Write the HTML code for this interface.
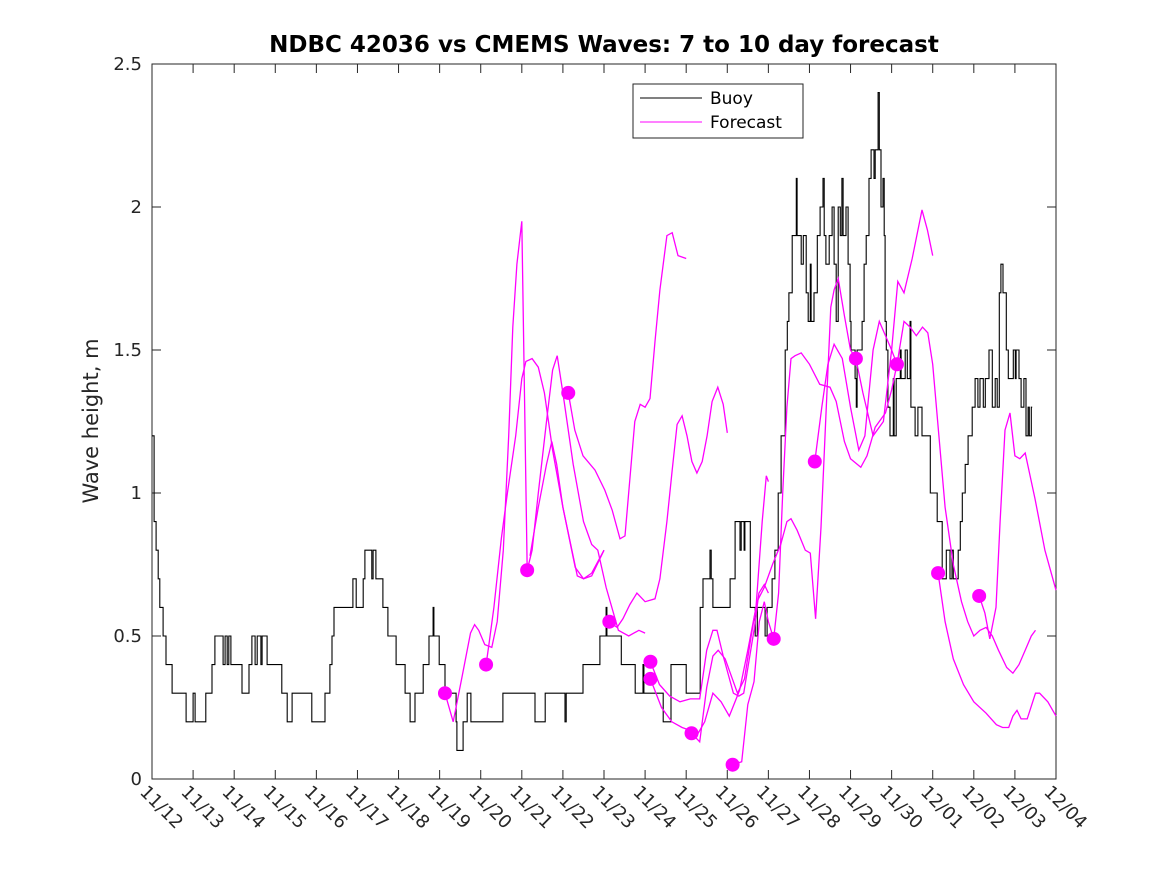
<!DOCTYPE html>
<html><head><meta charset="utf-8"><style>
html,body{margin:0;padding:0;background:#fff;}
svg{display:block;font-family:"DejaVu Sans","Liberation Sans",sans-serif;}
</style></head><body>
<svg id="chart" width="1167" height="875" viewBox="0 0 1167 875">
<rect x="0" y="0" width="1167" height="875" fill="#fff"/>
<text x="604" y="52" text-anchor="middle" font-size="23" font-weight="bold" fill="#000">NDBC 42036 vs CMEMS Waves: 7 to 10 day forecast</text>
<text transform="translate(98,421) rotate(-90)" text-anchor="middle" font-size="21" fill="#262626">Wave height, m</text>
<g id="axes"></g>
<g id="series"></g>
<g id="legend">
<rect x="633" y="84" width="170" height="54" fill="#fff" stroke="#262626" stroke-width="1"/>
<line x1="640" y1="98" x2="702" y2="98" stroke="#000" stroke-width="1"/>
<text x="710" y="104" font-size="17" fill="#000">Buoy</text>
<line x1="640" y1="122" x2="702" y2="122" stroke="#ff00ff" stroke-width="1"/>
<text x="710" y="128" font-size="17" fill="#000">Forecast</text>
</g>
</svg>
<script>
const xTickLabels = ["11/12","11/13","11/14","11/15","11/16","11/17","11/18","11/19","11/20","11/21","11/22","11/23","11/24","11/25","11/26","11/27","11/28","11/29","11/30","12/01","12/02","12/03","12/04"];
const yTicks = [0,0.5,1,1.5,2,2.5];
const yTickLabels = ["0","0.5","1","1.5","2","2.5"];
const buoyDays = [0,0.05,0.10,0.15,0.19,0.27,0.34,0.49,0.83,1.0,1.05,1.31,1.46,1.53,1.73,1.78,1.83,1.87,1.92,2.19,2.36,2.43,2.51,2.56,2.65,2.68,2.80,3.16,3.29,3.41,3.89,4.21,4.33,4.38,4.43,4.89,4.97,5.14,5.18,5.35,5.38,5.45,5.62,5.74,5.94,6.16,6.28,6.40,6.60,6.74,6.84,6.86,6.99,7.13,7.40,7.42,7.57,7.67,7.76,8.54,9.32,9.57,10.05,10.08,10.49,10.90,11.05,11.07,11.42,11.76,11.95,11.97,12.44,12.63,13.00,13.34,13.41,13.58,13.61,13.65,14.07,14.19,14.31,14.34,14.41,14.43,14.56,14.68,14.73,14.92,14.97,15.09,15.16,15.24,15.31,15.41,15.46,15.50,15.58,15.68,15.70,15.80,15.85,15.92,15.97,16.02,16.04,16.11,16.19,16.26,16.33,16.36,16.40,16.48,16.55,16.60,16.65,16.70,16.75,16.79,16.82,16.89,16.94,16.99,17.01,17.11,17.14,17.16,17.28,17.33,17.38,17.45,17.50,17.57,17.60,17.67,17.70,17.74,17.79,17.82,17.84,17.87,17.91,17.96,18.04,18.06,18.11,18.21,18.23,18.33,18.38,18.45,18.47,18.57,18.64,18.74,18.94,19.11,19.23,19.33,19.42,19.47,19.50,19.62,19.67,19.72,19.79,19.86,19.96,20.03,20.10,20.15,20.23,20.28,20.37,20.45,20.52,20.57,20.62,20.66,20.71,20.79,20.84,20.96,21.01,21.03,21.10,21.15,21.22,21.27,21.32,21.35,21.40,21.42];
const buoyVals = [1.2,0.9,0.8,0.7,0.6,0.5,0.4,0.3,0.2,0.3,0.2,0.3,0.4,0.5,0.4,0.5,0.4,0.5,0.4,0.3,0.4,0.5,0.4,0.5,0.4,0.5,0.4,0.3,0.2,0.3,0.2,0.3,0.4,0.5,0.6,0.7,0.6,0.7,0.8,0.7,0.8,0.7,0.6,0.5,0.4,0.3,0.2,0.3,0.4,0.5,0.6,0.5,0.4,0.3,0.2,0.1,0.2,0.3,0.2,0.3,0.2,0.3,0.2,0.3,0.4,0.5,0.6,0.5,0.4,0.3,0.4,0.3,0.2,0.4,0.3,0.6,0.7,0.8,0.7,0.6,0.7,0.9,0.8,0.9,0.8,0.9,0.6,0.5,0.6,0.5,0.6,0.7,0.8,1.0,1.2,1.5,1.6,1.7,1.9,2.1,1.9,1.8,1.9,1.7,1.6,1.8,1.6,1.7,1.9,2.0,2.1,1.9,1.8,1.9,2.0,1.8,1.6,2.0,1.9,2.1,1.9,2.0,1.8,1.6,1.5,1.4,1.3,1.5,1.6,1.8,1.9,2.1,2.2,2.1,2.2,2.4,2.2,2.0,2.1,1.9,1.6,1.5,1.3,1.2,1.4,1.2,1.4,1.5,1.4,1.5,1.4,1.6,1.3,1.2,1.3,1.2,1.0,0.9,0.7,0.8,0.7,0.8,0.7,0.8,0.9,1.0,1.1,1.2,1.3,1.4,1.3,1.4,1.3,1.4,1.5,1.3,1.4,1.3,1.7,1.8,1.7,1.5,1.4,1.5,1.4,1.5,1.4,1.3,1.4,1.2,1.3,1.2,1.3,1.3];
const fcDays = [
 [7.13,7.33,7.55,7.75,7.85,7.95,8.1,8.27,8.4,8.55,8.68,8.78,8.88,9.0,9.13],
 [8.13,8.2,8.32,8.5,8.65,8.85,9.0,9.1,9.25,9.4,9.55,9.75,10.0,10.3,10.5,10.7,11.0],
 [9.13,9.25,9.4,9.6,9.75,9.86,10.0,10.25,10.5,10.7,10.85,11.05,11.35,11.6,11.85,12.0],
 [9.2,9.4,9.6,9.73,9.85,10.0,10.35,10.5,10.7,11.0],
 [10.13,10.29,10.49,10.78,11.02,11.2,11.39,11.51,11.75,11.88,12.0,12.12,12.24,12.36,12.53,12.66,12.8,13.0],
 [11.12,11.32,11.46,11.63,11.8,12.0,12.24,12.36,12.53,12.66,12.78,12.9,13.02,13.14,13.26,13.39,13.51,13.63,13.77,13.9,14.0],
 [12.13,12.35,12.6,12.85,13.1,13.33,13.5,13.65,13.75,13.9,14.15,14.28,14.4,14.65,14.77,14.9,15.0],
 [12.13,12.4,12.65,12.9,13.1,13.25,13.45,13.65,13.85,14.05,14.3,14.5,14.7,14.85,14.95,15.0],
 [13.13,13.33,13.5,13.65,13.78,13.95,14.25,14.42,14.57,14.72,14.9,15.1,15.3,15.45,15.55,15.7,15.9,16.02,16.15,16.28,16.4,16.52,16.6,16.7,16.85,17.0,17.13],
 [14.13,14.35,14.5,14.65,14.78,14.9,15.0,15.13],
 [15.13,15.25,15.35,15.45,15.55,15.65,15.8,16.0,16.25,16.5,16.65,16.85,17.0,17.25,17.4,17.6,17.85,18.0,18.13],
 [16.13,16.3,16.45,16.6,16.8,17.0,17.2,17.35,17.55,17.7,17.85,18.0,18.13],
 [17.13,17.3,17.55,17.8,18.0,18.15,18.3,18.5,18.74,18.87,19.0],
 [18.13,18.3,18.45,18.6,18.75,18.88,19.0,19.15,19.3,19.5,19.7,19.85,20.0,20.15,20.3,20.45,20.6,20.8,20.95,21.1,21.25,21.4,21.5],
 [19.13,19.3,19.5,19.75,20.0,20.3,20.55,20.7,20.85,20.95,21.05,21.15,21.3,21.5,21.6,21.8,22.0],
 [20.13,20.27,20.39,20.54,20.64,20.76,20.88,21.0,21.12,21.25,21.49,21.73,22.0]
];
const fcVals = [
 [0.30,0.20,0.36,0.51,0.54,0.52,0.47,0.46,0.55,0.80,1.20,1.58,1.80,1.95,0.73],
 [0.40,0.47,0.60,0.84,1.00,1.20,1.40,1.46,1.47,1.44,1.35,1.15,0.95,0.74,0.70,0.71,0.80],
 [0.73,0.80,1.00,1.25,1.43,1.48,1.35,1.10,0.90,0.82,0.80,0.67,0.52,0.50,0.52,0.51],
 [0.78,0.95,1.10,1.18,1.10,0.95,0.71,0.70,0.72,0.80],
 [1.35,1.22,1.13,1.08,1.01,0.94,0.84,0.85,1.25,1.31,1.30,1.33,1.53,1.71,1.90,1.91,1.83,1.82],
 [0.55,0.53,0.56,0.61,0.65,0.62,0.63,0.70,0.90,1.08,1.24,1.27,1.20,1.11,1.07,1.11,1.20,1.32,1.37,1.31,1.21],
 [0.41,0.33,0.29,0.27,0.28,0.28,0.45,0.52,0.52,0.43,0.30,0.29,0.30,0.52,0.65,0.68,0.65],
 [0.35,0.25,0.20,0.18,0.17,0.15,0.20,0.30,0.27,0.22,0.31,0.45,0.60,0.90,1.06,1.04],
 [0.16,0.13,0.32,0.43,0.45,0.42,0.30,0.35,0.49,0.62,0.67,0.75,0.82,0.90,0.91,0.87,0.80,0.79,0.56,0.88,1.27,1.65,1.71,1.75,1.62,1.50,1.47],
 [0.05,0.06,0.26,0.34,0.55,0.62,0.55,0.49],
 [0.49,0.65,1.00,1.30,1.47,1.48,1.49,1.45,1.38,1.37,1.32,1.18,1.12,1.09,1.13,1.23,1.28,1.36,1.45],
 [1.11,1.30,1.45,1.52,1.47,1.30,1.15,1.20,1.50,1.60,1.55,1.50,1.45],
 [1.47,1.35,1.20,1.25,1.50,1.74,1.70,1.82,1.99,1.92,1.83],
 [1.45,1.60,1.58,1.55,1.58,1.56,1.45,1.20,0.95,0.75,0.62,0.55,0.50,0.52,0.53,0.50,0.45,0.39,0.37,0.40,0.45,0.50,0.52],
 [0.72,0.55,0.42,0.33,0.27,0.23,0.19,0.18,0.18,0.22,0.24,0.21,0.21,0.30,0.30,0.27,0.22],
 [0.64,0.58,0.49,0.60,0.90,1.22,1.28,1.13,1.12,1.14,0.98,0.80,0.66]
];
const dotDays = [7.13,8.13,9.13,10.13,11.13,12.13,12.13,13.13,14.13,15.13,16.13,17.13,18.13,19.13,20.13];
const dotVals = [0.30,0.40,0.73,1.35,0.55,0.41,0.35,0.16,0.05,0.49,1.11,1.47,1.45,0.72,0.64];

const NS="http://www.w3.org/2000/svg";
const X0=152,X1=1056,Y0=779,Y1=64,DMAX=22,VMAX=2.5;
function xs(d){return X0+(X1-X0)*d/DMAX;}
function ys(v){return Y0-(Y0-Y1)*v/VMAX;}
function mk(tag,attrs,parent){const e=document.createElementNS(NS,tag);for(const k in attrs)e.setAttribute(k,attrs[k]);parent.appendChild(e);return e;}
const axes=document.getElementById('axes');
const ser=document.getElementById('series');

const frame=mk('rect',{x:X0,y:Y1,width:X1-X0,height:Y0-Y1,fill:'none',stroke:'#262626','stroke-width':1},axes);



xTickLabels.forEach((lab,i)=>{
  const x=xs(i);
  const t1=mk('line',{x1:x,y1:Y0,x2:x,y2:Y0-9,stroke:'#262626','stroke-width':1},axes);
  
  
  const t2=mk('line',{x1:x,y1:Y1,x2:x,y2:Y1+9,stroke:'#262626','stroke-width':1},axes);
  
  
  const tx=mk('text',{x:0,y:0,transform:`translate(${x-13},${Y0+14}) rotate(45)`,'font-size':18,fill:'#262626'},axes);
  tx.textContent=lab;
  
  
});
yTicks.forEach((v,i)=>{
  const y=ys(v);
  const t1=mk('line',{x1:X0,y1:y,x2:X0+9,y2:y,stroke:'#262626','stroke-width':1},axes);
  
  
  const t2=mk('line',{x1:X1,y1:y,x2:X1-9,y2:y,stroke:'#262626','stroke-width':1},axes);
  
  
  const tx=mk('text',{x:X0-10,y:y+6,'text-anchor':'end','font-size':18,fill:'#262626'},axes);
  tx.textContent=yTickLabels[i];
  
  
});

let pts=[];
for(let i=0;i<buoyDays.length;i++){
  if(i>0)pts.push(xs(buoyDays[i]).toFixed(1)+','+ys(buoyVals[i-1]).toFixed(1));
  pts.push(xs(buoyDays[i]).toFixed(1)+','+ys(buoyVals[i]).toFixed(1));
}
const bl=mk('polyline',{points:pts.join(' '),fill:'none',stroke:'#000','stroke-width':1.1},ser);



fcDays.forEach((ds,k)=>{
  const p=ds.map((d,i)=>xs(d).toFixed(1)+','+ys(fcVals[k][i]).toFixed(1)).join(' ');
  const l=mk('polyline',{points:p,fill:'none',stroke:'#ff00ff','stroke-width':1.3},ser);
  
  
});
dotDays.forEach((d,i)=>{
  const c=mk('circle',{cx:xs(d),cy:ys(dotVals[i]),r:7,fill:'#ff00ff'},ser);
  
  
});
</script>
</body></html>
